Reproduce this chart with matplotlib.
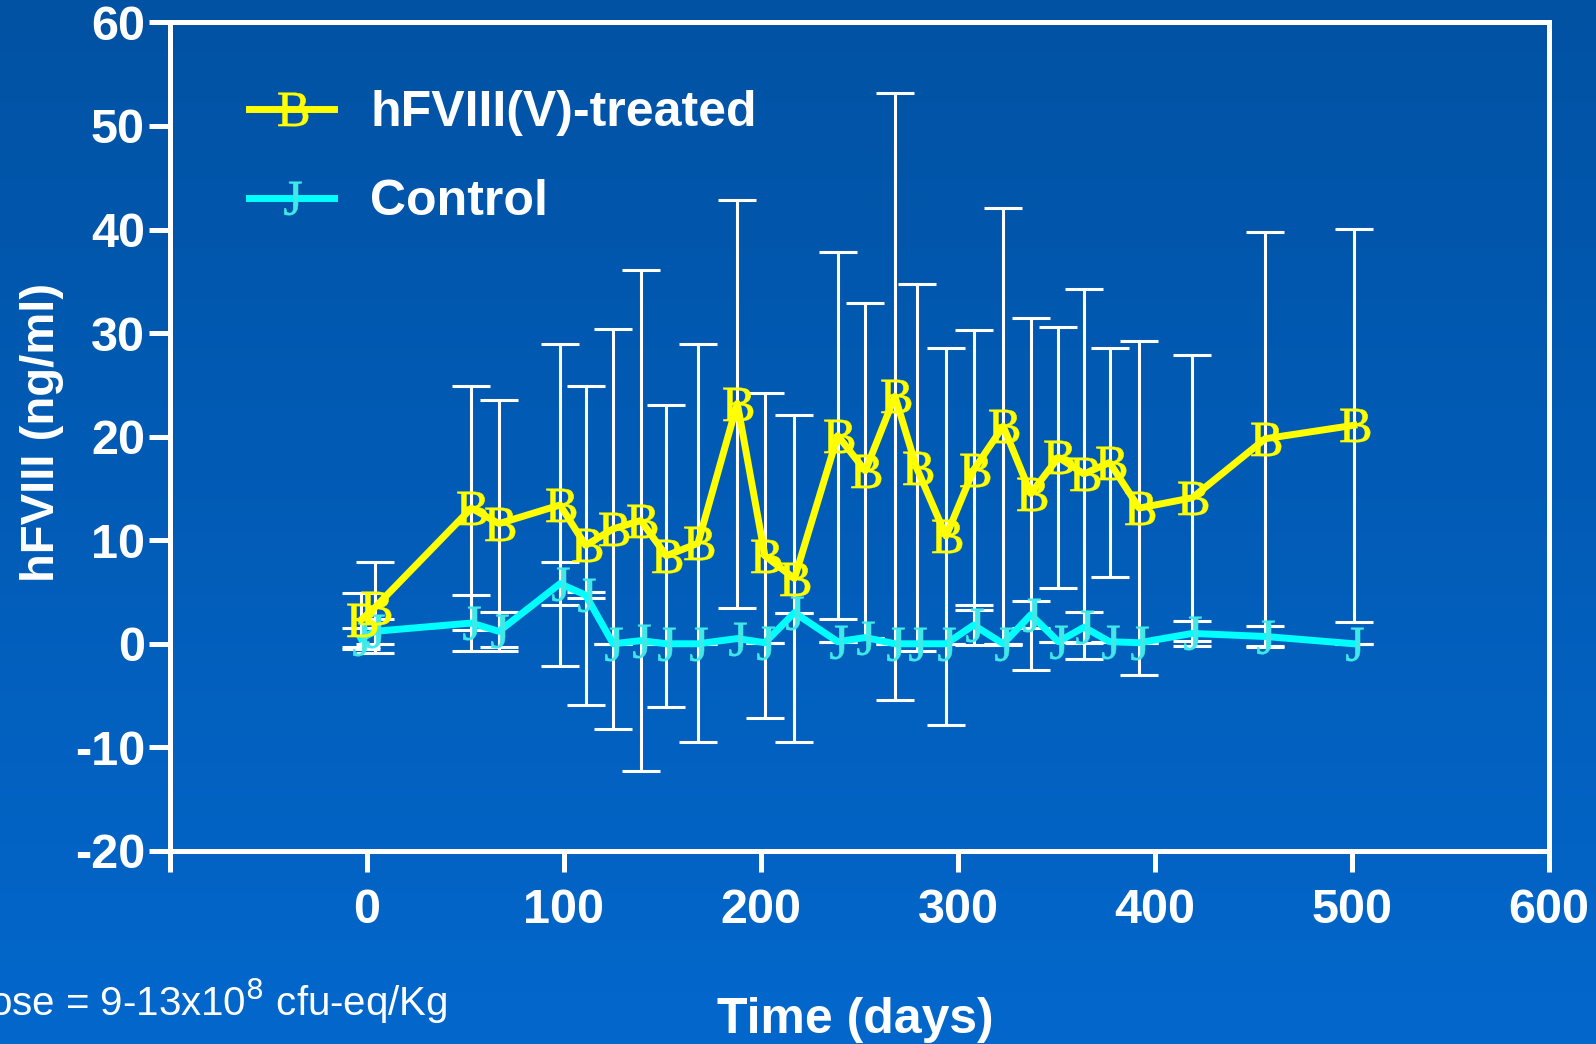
import numpy as np
import matplotlib
matplotlib.use("Agg")
import matplotlib.pyplot as plt
from matplotlib.colors import LinearSegmentedColormap
from matplotlib.font_manager import FontProperties
from matplotlib.path import Path
from matplotlib.textpath import TextPath

# days after treatment
days = [-3, 4, 53, 67, 98, 111, 125, 139, 152, 168, 188, 202, 217, 239,
        253, 268, 279, 294, 308, 323, 337, 351, 364, 377, 392, 419, 456, 501]

# hFVIII(V)-treated, mean and SD (ng/ml)
treated = [2.3, 3.5, 13.1, 11.6, 13.4, 9.5, 11.1, 11.9, 8.5, 9.7, 23.2, 8.5, 6.3, 20.1,
           16.7, 23.9, 17.0, 10.4, 16.8, 21.0, 14.5, 18.0, 16.4, 17.5, 13.1, 14.1, 19.8, 21.1]
treated_sd = [2.6, 4.4, 11.8, 11.9, 15.5, 15.4, 19.3, 24.2, 14.6, 19.2, 19.7, 15.7, 15.8, 17.7,
              16.2, 29.3, 17.7, 18.2, 13.5, 21.1, 17.0, 12.6, 17.9, 11.1, 16.1, 13.8, 20.0, 19.0]

# control, mean and SD (ng/ml)
control = [0.5, 1.2, 2.0, 1.2, 5.8, 4.7, 0.0, 0.3, 0.0, 0.0, 0.5, 0.1, 3.0, 0.2,
           0.6, 0.0, 0.0, 0.0, 1.8, 0.0, 2.8, 0.2, 1.6, 0.2, 0.1, 1.0, 0.7, 0.0]
control_sd = [1.0, 1.2, 2.7, 1.9, 2.1, 0.3, 0.0, 0.0, 0.0, 0.0, 0.0, 0.0, 0.0, 0.0,
              0.0, 0.0, 0.0, 0.0, 1.9, 0.0, 1.3, 0.0, 1.5, 0.0, 0.0, 1.2, 1.0, 0.0]

xticks = [-100, 0, 100, 200, 300, 400, 500, 600]
xticklabels = ["", "0", "100", "200", "300", "400", "500", "600"]
yticks = [-20, -10, 0, 10, 20, 30, 40, 50, 60]


def letter_marker(ch):
    # glyph outline centred on the data point
    tp = TextPath((0, 0), ch, size=10, prop=FontProperties(family="Liberation Serif"))
    v = tp.vertices.copy()
    v -= (v.min(axis=0) + v.max(axis=0)) / 2
    return Path(v, tp.codes)


plt.rcParams["font.family"] = ["Liberation Sans", "DejaVu Sans"]
plt.rcParams["axes.unicode_minus"] = False

fig = plt.figure(figsize=(15.96, 10.44), dpi=100)

# blue gradient background
bg = fig.add_axes([0, 0, 1, 1], zorder=-10)
cmap = LinearSegmentedColormap.from_list("bg", ["#0152A3", "#0367CC"])
bg.imshow(np.linspace(0, 1, 256).reshape(-1, 1), aspect="auto", cmap=cmap,
          extent=[0, 1, 0, 1])
bg.set_axis_off()

ax = fig.add_axes([0.1065, 0.185, 0.864, 0.7935])
ax.set_facecolor("none")

ax.errorbar(days, treated, yerr=treated_sd, fmt="none", ecolor="white",
            elinewidth=2.2, capsize=14, capthick=2.2, zorder=2)
ax.errorbar(days, control, yerr=control_sd, fmt="none", ecolor="white",
            elinewidth=2.2, capsize=14, capthick=2.2, zorder=2)

ax.plot(days, control, color="#00FFFF", lw=5, marker=letter_marker("J"),
        markersize=24, mfc="#40E8E8", mec="#40E8E8", mew=0.4, label="Control", zorder=3)
ax.plot(days, treated, color="#FFFF00", lw=5, marker=letter_marker("B"),
        markersize=24, mfc="#FFFF00", mec="#FFFF00", mew=0.4,
        label="hFVIII(V)-treated", zorder=4)

ax.set_xlim(-100, 600)
ax.set_ylim(-20, 60)
ax.set_xticks(xticks)
ax.set_xticklabels(xticklabels)
ax.set_yticks(yticks)

for s in ax.spines.values():
    s.set_color("white")
    s.set_linewidth(3.6)
ax.tick_params(colors="white", width=3.6, length=15, labelsize=35, direction="out")
ax.tick_params(axis="x", pad=12)
ax.tick_params(axis="y", pad=3)
for lab in ax.get_xticklabels() + ax.get_yticklabels():
    lab.set_fontweight("bold")

ax.set_xlabel("Time (days)", color="white", fontsize=36, fontweight="bold")
ax.xaxis.set_label_coords(0.497, -0.176)
ax.set_ylabel("hFVIII (ng/ml)", color="white", fontsize=34, fontweight="bold")
ax.yaxis.set_label_coords(-0.077, 0.505)

handles, labels = ax.get_legend_handles_labels()
leg = ax.legend(handles[::-1], labels[::-1], loc="upper left",
                bbox_to_anchor=(0.0576, 0.918), frameon=False, borderaxespad=0,
                borderpad=0, handlelength=1.7, handletextpad=0.72,
                labelspacing=0.86, prop={"size": 36, "weight": "bold"})
for t in leg.get_texts():
    t.set_color("white")

fig.text(-0.025, 1 - 1016 / 1044, "Dose = 9-13x10$^{8}$ cfu-eq/Kg", color="white",
         fontsize=29, ha="left", va="baseline")

fig.savefig("out.png", dpi=100)
